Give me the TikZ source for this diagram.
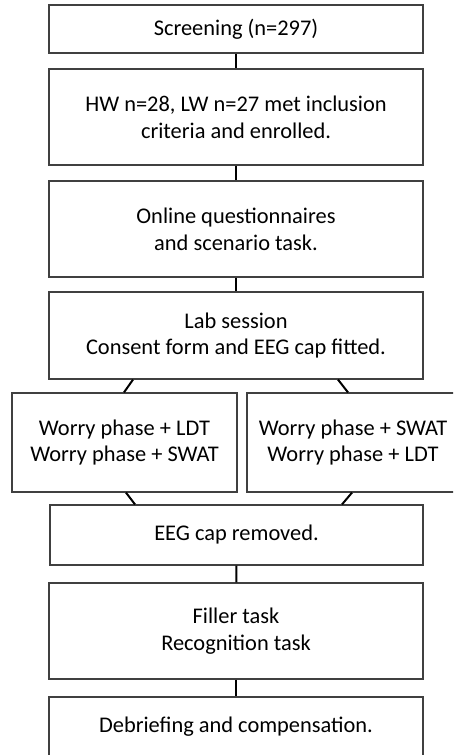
\documentclass[tikz,border=0pt]{standalone}
\usepackage{fontspec}
\setmainfont{Carlito}

\tikzset{
	stage/.style={draw=black!75, line width=1.2pt, inner sep=0pt, align=center,
		font=\fontsize{22.4}{26.8}\selectfont},
	link/.style={draw=black, line width=2pt},
}

\begin{document}
\begin{tikzpicture}[x=1pt, y=-1pt]
	\useasboundingbox (0,0) rectangle (453,755);
	\clip (0,0) rectangle (453,755);
	% main column
	\node[stage, minimum width=374pt, minimum height=48pt] (scr) at (236,29) {Screening (n=297)};
	\node[stage, minimum width=374pt, minimum height=96pt] (enr) at (236,117) {HW n=28, LW n=27 met inclusion\\criteria and enrolled.};
	\node[stage, minimum width=374pt, minimum height=96pt] (onl) at (236,229) {Online questionnaires\\and scenario task.};
	\node[stage, minimum width=374pt, minimum height=87pt] (lab) at (236,335.5) {Lab session\\Consent form and EEG cap fitted.};
	% the two orders
	\node[stage, minimum width=225pt, minimum height=99pt] (wl) at (124.5,442.5) {Worry phase + LDT\\Worry phase + SWAT};
	\node[stage, minimum width=212pt, minimum height=99pt] (wr) at (353,442.5) {Worry phase + SWAT\\Worry phase + LDT};
	% after the tasks
	\node[stage, minimum width=373pt, minimum height=60pt] (eeg) at (236.5,535) {EEG cap removed.};
	\node[stage, minimum width=374pt, minimum height=96pt] (fil) at (236,631) {Filler task\\Recognition task};
	\node[stage, minimum width=374pt, minimum height=60pt] (deb) at (236,727) {Debriefing and compensation.};
	\draw[link] (scr)--(enr);
	\draw[link] (enr)--(onl);
	\draw[link] (onl)--(lab);
	\draw[link] ([xshift=-103pt]lab.south)--([xshift=-0.5pt]wl.north);
	\draw[link] ([xshift=102pt]lab.south)--([xshift=-5pt]wr.north);
	\draw[link] ([xshift=1.5pt]wl.south)--([xshift=-101.5pt]eeg.north);
	\draw[link] ([xshift=-1pt]wr.south)--([xshift=105.5pt]eeg.north);
	\draw[link] (eeg)--(fil);
	\draw[link] (fil)--(deb);
\end{tikzpicture}
\end{document}
